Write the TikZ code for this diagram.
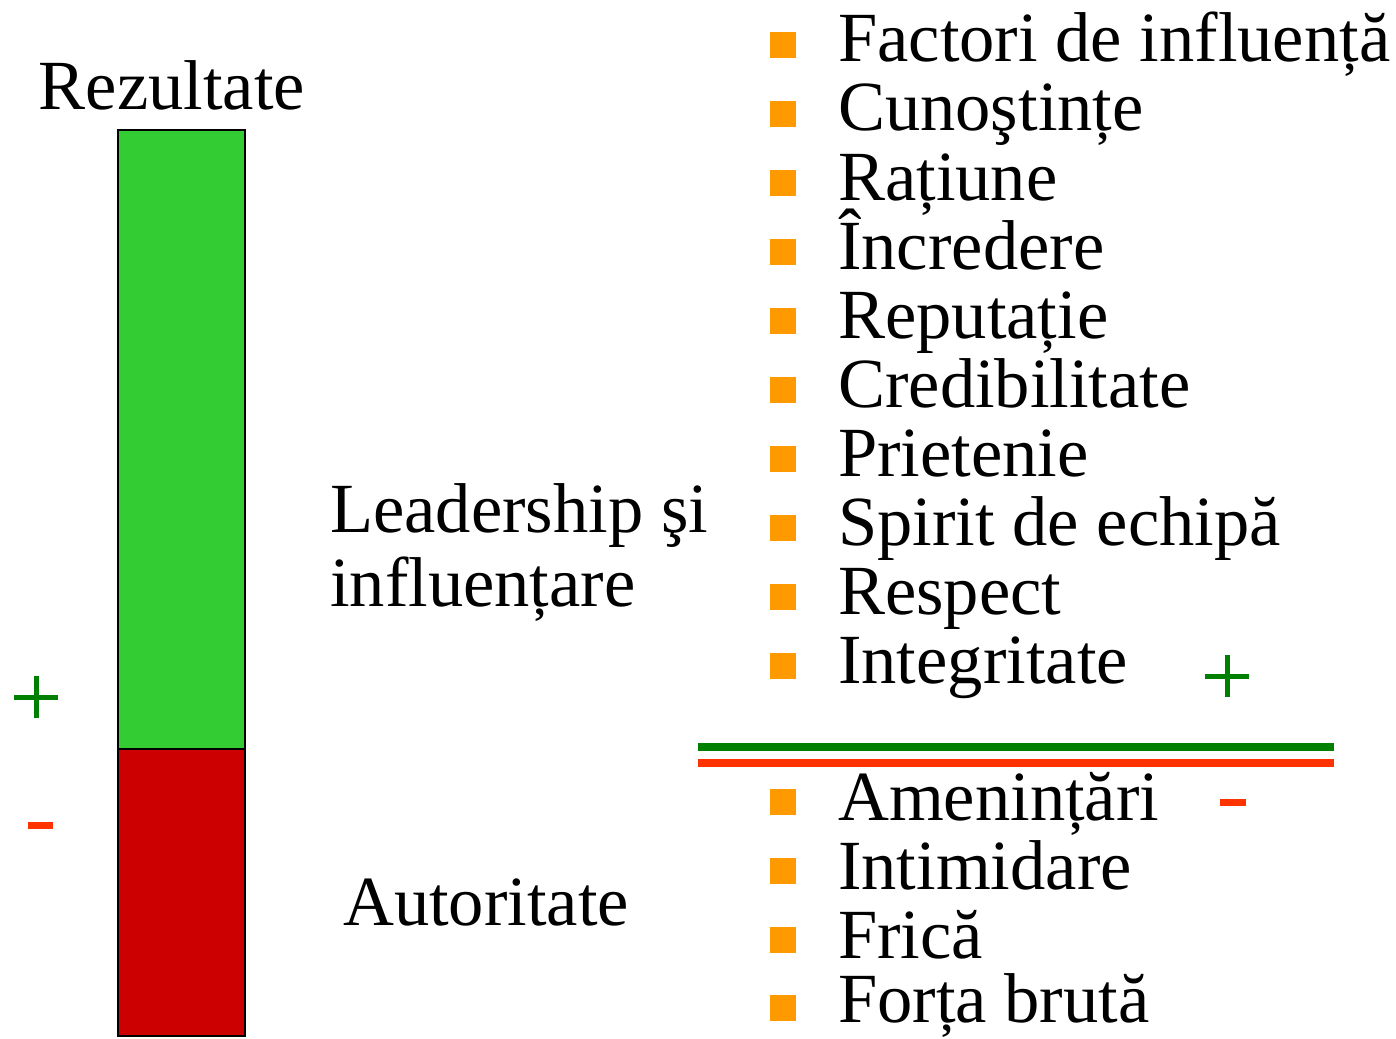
\documentclass[tikz,border=0pt]{standalone}
\usepackage{fontspec}
\setmainfont{Liberation Serif}
\usetikzlibrary{calc}

\definecolor{bargreen}{RGB}{51,204,51}
\definecolor{barred}{RGB}{204,0,0}
\definecolor{plusgreen}{RGB}{0,128,0}
\definecolor{minusred}{RGB}{255,51,0}
\definecolor{bulletorange}{RGB}{255,153,0}

\tikzset{
    bigtext/.style={font=\fontsize{70.5}{76}\selectfont, inner sep=0pt, anchor=base west},
    bulletsq/.style={fill=bulletorange, minimum size=26pt, inner sep=0pt},
}

\begin{document}
\begin{tikzpicture}[x=1pt,y=-1pt]

    % let's define some key values
    \def\xbarl{118}
    \def\xbarr{245}
    \def\ybartop{130}
    \def\ysplit{749}
    \def\ybarbot{1036}
    \def\xbullet{783}
    \def\xitems{838}
    \def\xlinel{698}
    \def\xliner{1334}

    \useasboundingbox (0,0) rectangle (1396,1038);

    % the bar
    \draw[fill=bargreen, line width=1.5pt] (\xbarl,\ybartop) rectangle (\xbarr,\ysplit);
    \draw[fill=barred, line width=1.5pt] (\xbarl,\ysplit) rectangle (\xbarr,\ybarbot);

    % bar labels
    \node[bigtext, anchor=base] (rez) at (172,110) {Rezultate};
    \node[bigtext] (lead) at (330,532) {Leadership şi};
    \node[bigtext] (infl) at (330,606) {influențare};
    \node[bigtext] (aut) at (343,925) {Autoritate};

    % plus and minus on the left
    \coordinate (plusl) at (36,697);
    \draw[plusgreen, line width=5pt] ($(plusl)+(-22,0)$) -- ($(plusl)+(22,0)$);
    \draw[plusgreen, line width=5pt] ($(plusl)+(0,-21)$) -- ($(plusl)+(0,21)$);
    \draw[minusred, line width=7pt] (28,825) -- (53,825);

    % positive factors
    \node[bulletsq] (b1) at (\xbullet,45) {};
    \node[bigtext] (t1) at (\xitems,62) {Factori de influență};
    \node[bulletsq] (b2) at (\xbullet,114) {};
    \node[bigtext] (t2) at (\xitems,131) {Cunoştințe};
    \node[bulletsq] (b3) at (\xbullet,183) {};
    \node[bigtext] (t3) at (\xitems,200) {Rațiune};
    \node[bulletsq] (b4) at (\xbullet,252) {};
    \node[bigtext] (t4) at (\xitems,269) {Încredere};
    \node[bulletsq] (b5) at (\xbullet,321) {};
    \node[bigtext] (t5) at (\xitems,338) {Reputație};
    \node[bulletsq] (b6) at (\xbullet,390) {};
    \node[bigtext] (t6) at (\xitems,407) {Credibilitate};
    \node[bulletsq] (b7) at (\xbullet,459) {};
    \node[bigtext] (t7) at (\xitems,476) {Prietenie};
    \node[bulletsq] (b8) at (\xbullet,528) {};
    \node[bigtext] (t8) at (\xitems,545) {Spirit de echipă};
    \node[bulletsq] (b9) at (\xbullet,597) {};
    \node[bigtext] (t9) at (\xitems,614) {Respect};
    \node[bulletsq] (b10) at (\xbullet,666) {};
    \node[bigtext] (t10) at (\xitems,683) {Integritate};

    % plus on the right
    \coordinate (plusr) at (1227,676);
    \draw[plusgreen, line width=5pt] ($(plusr)+(-22,0)$) -- ($(plusr)+(22,0)$);
    \draw[plusgreen, line width=5pt] ($(plusr)+(0,-21)$) -- ($(plusr)+(0,21)$);

    % separating lines
    \draw[plusgreen, line width=8pt] (\xlinel,747) -- (\xliner,747);
    \draw[minusred, line width=8pt] (\xlinel,763) -- (\xliner,763);

    % negative factors
    \node[bulletsq] (n1) at (\xbullet,802) {};
    \node[bigtext] (m1) at (\xitems,820) {Amenințări};
    \node[bulletsq] (n2) at (\xbullet,871) {};
    \node[bigtext] (m2) at (\xitems,889) {Intimidare};
    \node[bulletsq] (n3) at (\xbullet,940) {};
    \node[bigtext] (m3) at (\xitems,958) {Frică};
    \node[bulletsq] (n4) at (\xbullet,1008) {};
    \node[bigtext] (m4) at (\xitems,1022) {Forța brută};

    % minus on the right
    \draw[minusred, line width=7pt] (1220,802) -- (1246,802);

\end{tikzpicture}
\end{document}
